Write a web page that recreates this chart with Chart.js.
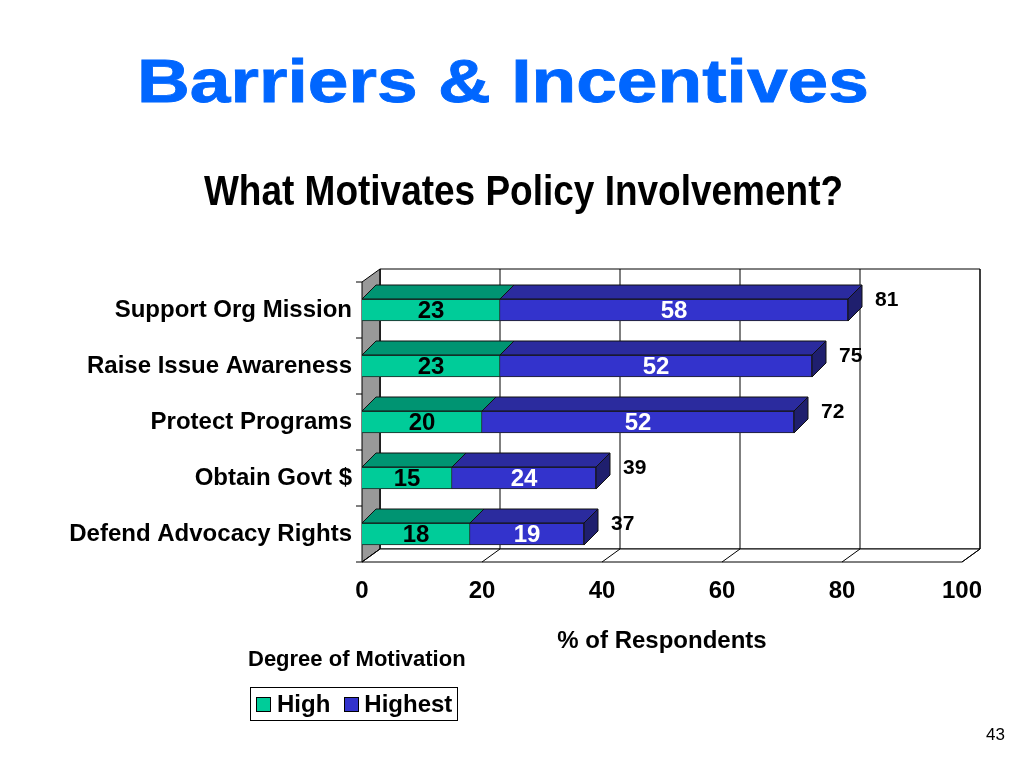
<!DOCTYPE html>
<html>
<head>
<meta charset="utf-8">
<script src="https://cdn.jsdelivr.net/npm/chart.js@4/dist/chart.umd.min.js"></script>
<style>
  body { margin: 0; background: #fff; }
  #page { position: relative; width: 1024px; height: 768px; overflow: hidden; font-family: "Liberation Sans", Arial, sans-serif; }
  #chart { position: absolute; left: 0; top: 0; }
  .txt { position: absolute; white-space: nowrap; font-weight: bold; }
  #title { left: 0; width: 1006px; top: 45px; text-align: center; font-size: 62px; color: #0066ff;
    -webkit-text-stroke: 0.8px #0066ff; transform: scaleX(1.18); }
  #subtitle { left: 0; width: 1047px; top: 166px; text-align: center; font-size: 43px; color: #000;
    transform: scaleX(0.86); }
  #legendTitle { left: 248px; top: 646px; font-size: 22px; }
  #legend { position: absolute; left: 250px; top: 687px; width: 206px; height: 32px; border: 1px solid #000;
    display: flex; align-items: center; font-weight: bold; font-size: 24px; }
  #legend span.sw { display: inline-block; width: 13px; height: 13px; border: 1px solid #000; margin: 0 6px 0 5px; }
  #legend span.gap { margin-left: 14px; margin-right: 5px; }
  #pageno { right: 19px; top: 725px; font-size: 17px; font-weight: normal; }
</style>
</head>
<body>
<div id="page">
  <canvas id="chart" width="1024" height="768"></canvas>
  <div class="txt" id="title">Barriers &amp; Incentives</div>
  <div class="txt" id="subtitle">What Motivates Policy Involvement?</div>
  <div class="txt" id="legendTitle">Degree of Motivation</div>
  <div id="legend"></div>
  <div class="txt" id="pageno">43</div>
</div>
<script>
const categories = ['Support Org Mission', 'Raise Issue Awareness', 'Protect Programs', 'Obtain Govt $', 'Defend Advocacy Rights'];
const highValues = [23, 23, 20, 15, 18];
const highestValues = [58, 52, 52, 24, 19];
const totals = [81, 75, 72, 39, 37];
const xTicks = [0, 20, 40, 60, 80, 100];

const sans = '"Liberation Sans", Arial, sans-serif';

// 3D walls, floor, gridlines behind the bars
const walls = {
  id: 'walls',
  beforeDatasetsDraw(chart) {
    const { ctx, chartArea: a, scales: { x } } = chart;
    const dx = 18, dy = 13;
    ctx.save();
    ctx.strokeStyle = '#000';
    ctx.lineWidth = 1;
    // back wall
    ctx.fillStyle = '#fff';
    ctx.beginPath();
    ctx.rect(a.left + dx, a.top - dy, a.right - a.left, a.bottom - a.top);
    ctx.fill(); ctx.stroke();
    // left wall
    ctx.fillStyle = '#999';
    ctx.beginPath();
    ctx.moveTo(a.left, a.top);
    ctx.lineTo(a.left + dx, a.top - dy);
    ctx.lineTo(a.left + dx, a.bottom - dy);
    ctx.lineTo(a.left, a.bottom);
    ctx.closePath();
    ctx.fill(); ctx.stroke();
    // floor
    ctx.fillStyle = '#fff';
    ctx.beginPath();
    ctx.moveTo(a.left, a.bottom);
    ctx.lineTo(a.left + dx, a.bottom - dy);
    ctx.lineTo(a.right + dx, a.bottom - dy);
    ctx.lineTo(a.right, a.bottom);
    ctx.closePath();
    ctx.fill(); ctx.stroke();
    // gridlines on back wall + floor
    xTicks.forEach(v => {
      const px = x.getPixelForValue(v);
      ctx.beginPath();
      ctx.moveTo(px + dx, a.top - dy);
      ctx.lineTo(px + dx, a.bottom - dy);
      ctx.lineTo(px, a.bottom);
      ctx.stroke();
    });
    // left axis ticks between categories
    const step = (a.bottom - a.top) / categories.length;
    for (let i = 0; i <= categories.length; i++) {
      const py = a.top + i * step;
      ctx.beginPath();
      ctx.moveTo(a.left - 6, py);
      ctx.lineTo(a.left, py);
      ctx.stroke();
    }
    ctx.restore();
  }
};

// top/side faces and value labels on the bars
const bars3d = {
  id: 'bars3d',
  afterDatasetsDraw(chart) {
    const { ctx } = chart;
    const d = 14;
    const tops = ['#009472', '#2b2b9e'];
    ctx.save();
    ctx.strokeStyle = '#111';
    ctx.lineWidth = 1;
    chart.data.datasets.forEach((ds, di) => {
      chart.getDatasetMeta(di).data.forEach((el, i) => {
        const { x, y, base, height } = el.getProps(['x', 'y', 'base', 'height'], true);
        const t = y - height / 2, b = y + height / 2;
        ctx.fillStyle = tops[di];
        ctx.beginPath();
        ctx.moveTo(base, t);
        ctx.lineTo(base + d, t - d);
        ctx.lineTo(x + d, t - d);
        ctx.lineTo(x, t);
        ctx.closePath();
        ctx.fill(); ctx.stroke();
        if (di === chart.data.datasets.length - 1) {
          ctx.fillStyle = '#1f1f6e';
          ctx.beginPath();
          ctx.moveTo(x, t);
          ctx.lineTo(x + d, t - d);
          ctx.lineTo(x + d, b - d);
          ctx.lineTo(x, b);
          ctx.closePath();
          ctx.fill(); ctx.stroke();
          ctx.fillStyle = '#000';
          ctx.font = 'bold 21px ' + sans;
          ctx.textAlign = 'left';
          ctx.textBaseline = 'middle';
          ctx.fillText(String(totals[i]), x + d + 13, y - 10);
        }
        ctx.fillStyle = di === 0 ? '#000' : '#fff';
        ctx.font = 'bold 24px ' + sans;
        ctx.textAlign = 'center';
        ctx.textBaseline = 'middle';
        ctx.fillText(String(ds.data[i]), (x + base) / 2, y + 1);
      });
    });
    ctx.restore();
  }
};

const chart = new Chart(document.getElementById('chart'), {
  type: 'bar',
  data: {
    labels: categories,
    datasets: [
      { label: 'High', data: highValues, backgroundColor: '#00cc99', borderColor: '#222', borderWidth: 1 },
      { label: 'Highest', data: highestValues, backgroundColor: '#3333cc', borderColor: '#222', borderWidth: 1 }
    ]
  },
  options: {
    indexAxis: 'y',
    responsive: false,
    animation: false,
    layout: { padding: { left: 0, right: 62, top: 282, bottom: 96 } },
    datasets: { bar: { barThickness: 22 } },
    scales: {
      x: {
        stacked: true,
        min: 0, max: 100,
        afterFit: s => { s.height = 110; },
        afterBuildTicks: s => { s.ticks = xTicks.map(v => ({ value: v })); },
        grid: { display: false, drawTicks: false },
        border: { display: false },
        ticks: { color: '#000', padding: 15, font: { family: sans, size: 24, weight: 'bold' } },
        title: { display: true, text: '% of Respondents', color: '#000', padding: { top: 16, bottom: 16 },
          font: { family: sans, size: 24, weight: 'bold' } }
      },
      y: {
        stacked: true,
        afterFit: s => { s.width = 362; },
        grid: { display: false, drawTicks: false },
        border: { display: false },
        ticks: { color: '#000', padding: 10, font: { family: sans, size: 24, weight: 'bold' } }
      }
    },
    plugins: {
      legend: { display: false },
      tooltip: { enabled: false }
    }
  },
  plugins: [walls, bars3d]
});

// legend from the datasets
const legend = document.getElementById('legend');
chart.data.datasets.forEach((ds, i) => {
  const sw = document.createElement('span');
  sw.className = 'sw' + (i > 0 ? ' gap' : '');
  sw.style.background = ds.backgroundColor;
  legend.appendChild(sw);
  legend.appendChild(document.createTextNode(ds.label));
});
</script>
</body>
</html>
